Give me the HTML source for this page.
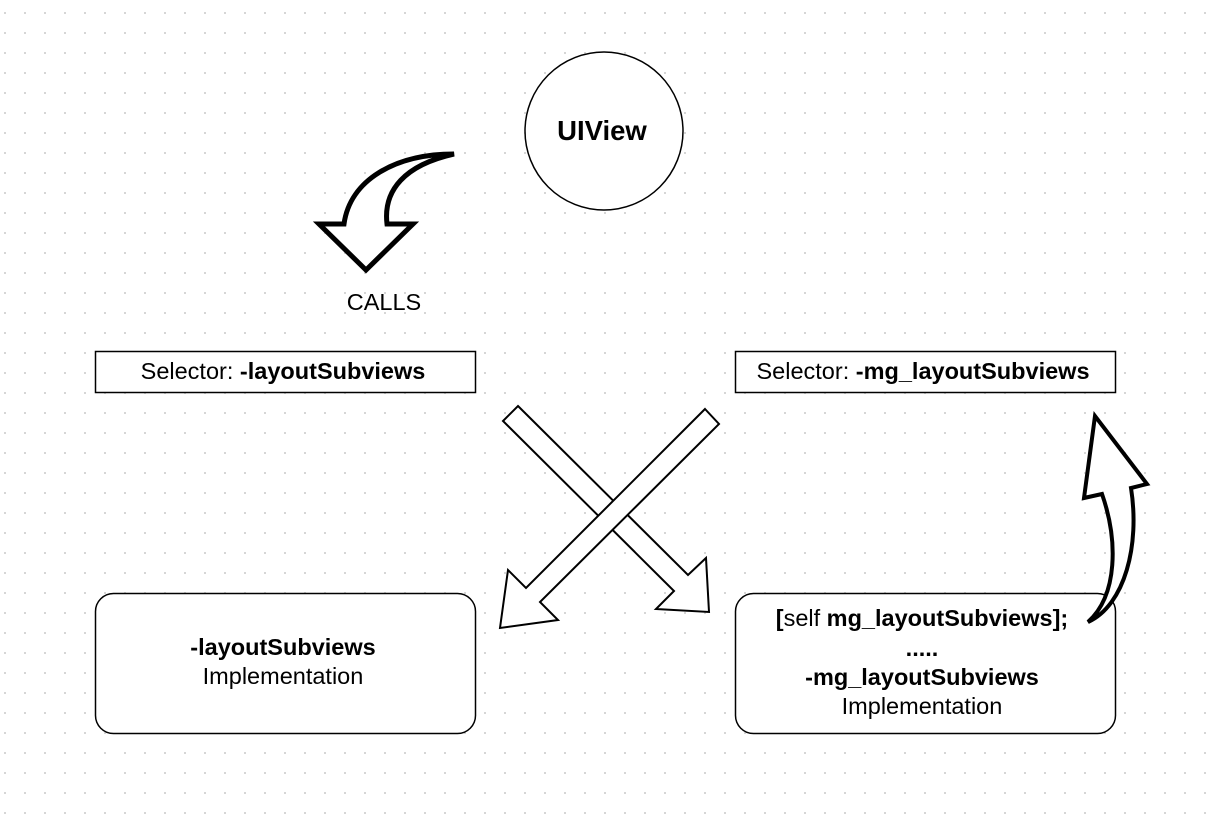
<!DOCTYPE html>
<html><head><meta charset="utf-8"><style>
body{margin:0;width:1214px;height:818px;overflow:hidden;background:#fff;}
svg{display:block}
text{font-family:"Liberation Sans",Arial,sans-serif;font-size:23.5px;fill:#000}
</style></head><body>
<svg width="1214" height="818" viewBox="0 0 1214 818">
<defs><pattern id="g" x="4" y="12" width="20" height="20" patternUnits="userSpaceOnUse"><rect x="0" y="0" width="2" height="2" fill="#d6d6d6"/></pattern></defs>
<rect width="1214" height="818" fill="url(#g)"/>
<circle cx="604" cy="131" r="79" fill="#fff" stroke="#000" stroke-width="1.5"/>
<text x="602" y="140" text-anchor="middle" font-weight="bold" style="font-size:27.5px">UIView</text>
<path d="M454,154 C395,154 350,180 344,224 L319,224 L366,270 L413,224 L387,224 C383,190 405,165 454,154 Z" fill="#fff" stroke="#000" stroke-width="5" stroke-linejoin="miter"/>
<text x="384" y="310" text-anchor="middle">CALLS</text>
<rect x="95.5" y="351.5" width="380" height="41" fill="#fff" stroke="#000" stroke-width="1.5"/>
<text x="283" y="379" text-anchor="middle">Selector: <tspan font-weight="bold">-layoutSubviews</tspan></text>
<rect x="735.5" y="351.5" width="380" height="41" fill="#fff" stroke="#000" stroke-width="1.5"/>
<text x="923" y="379" text-anchor="middle">Selector: <tspan font-weight="bold">-mg_layoutSubviews</tspan></text>
<rect x="95.5" y="593.5" width="380" height="140" rx="18" fill="#fff" stroke="#000" stroke-width="1.5"/>
<text x="283" y="655" text-anchor="middle" font-weight="bold">-layoutSubviews</text>
<text x="283" y="684" text-anchor="middle">Implementation</text>
<rect x="735.5" y="593.5" width="380" height="140" rx="18" fill="#fff" stroke="#000" stroke-width="1.5"/>
<text x="922" y="626" text-anchor="middle" font-weight="bold">[<tspan font-weight="normal">self </tspan>mg_layoutSubviews];</text>
<text x="922" y="656" text-anchor="middle" font-weight="bold">.....</text>
<text x="922" y="685" text-anchor="middle" font-weight="bold">-mg_layoutSubviews</text>
<text x="922" y="714" text-anchor="middle">Implementation</text>
<path d="M518,406 L688,575 L706,558 L709,612 L656,609 L674,591 L503,421 Z" fill="#fff" stroke="#000" stroke-width="2" stroke-linejoin="miter"/>
<path d="M705,409 L719,424 L540,602 L558,620 L500,628 L508,570 L526,588 Z" fill="#fff" stroke="#000" stroke-width="2" stroke-linejoin="miter"/>
<path d="M1088,622 C1118,595 1118,540 1102,494 L1084,498 L1095,416 L1147,484 L1131,488 C1140,545 1125,605 1088,622 Z" fill="#fff" stroke="#000" stroke-width="4" stroke-linejoin="miter"/>
</svg>
</body></html>
